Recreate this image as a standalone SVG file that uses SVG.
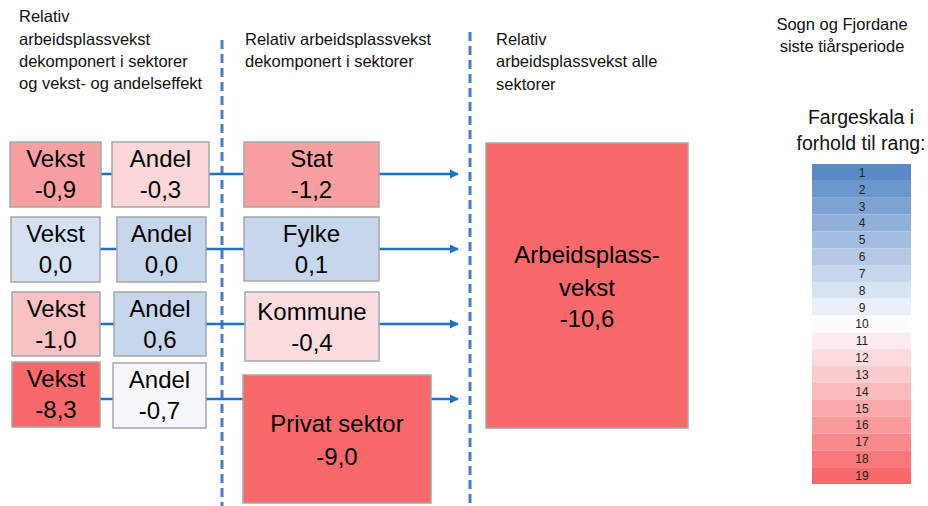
<svg xmlns="http://www.w3.org/2000/svg" width="928" height="506" viewBox="0 0 928 506">
<style>
.t{font-family:"Liberation Sans",Arial,sans-serif;font-size:16.5px;fill:#111}
.f{font-family:"Liberation Sans",Arial,sans-serif;font-size:19.5px;fill:#111;text-anchor:middle}
.b{stroke:#a6a6a6;stroke-width:1.5}
.bt{font-family:"Liberation Sans",Arial,sans-serif;font-size:24px;fill:#000;text-anchor:middle}
.c{stroke:#1f72c0;stroke-width:2.5;fill:none}
.d{stroke:#4a7ec4;stroke-width:3;stroke-dasharray:9 5;fill:none}
.s{font-family:"Liberation Sans",Arial,sans-serif;font-size:12px;fill:#222;text-anchor:middle}
</style>
<defs>
<marker id="ar" viewBox="0 0 10 10" refX="9" refY="5" markerWidth="9" markerHeight="10" orient="auto" markerUnits="userSpaceOnUse">
<path d="M0,0 L10,5 L0,10 z" fill="#1f72c0"/>
</marker>
</defs>
<rect width="928" height="506" fill="#fff"/>
<g id="titles">
<text class="t" x="19" y="22">Relativ</text>
<text class="t" x="19" y="45">arbeidsplassvekst</text>
<text class="t" x="19" y="67">dekomponert i sektorer</text>
<text class="t" x="19" y="89">og vekst- og andelseffekt</text>
<text class="t" x="245" y="45">Relativ arbeidsplassvekst</text>
<text class="t" x="245" y="67">dekomponert i sektorer</text>
<text class="t" x="496" y="45">Relativ</text>
<text class="t" x="496" y="67">arbeidsplassvekst alle</text>
<text class="t" x="496" y="90">sektorer</text>
<text class="t" x="842" y="30" text-anchor="middle">Sogn og Fjordane</text>
<text class="t" x="842" y="52" text-anchor="middle">siste tiårsperiode</text>
<text class="f" x="861" y="124">Fargeskala i</text>
<text class="f" x="861" y="150">forhold til rang:</text>
</g>
<g id="dividers">
<line class="d" x1="222" y1="40" x2="222" y2="506"/>
<line class="d" x1="470" y1="32" x2="470" y2="506"/>
</g>
<g id="connectors">
<line class="c" x1="100" y1="174" x2="458" y2="174" marker-end="url(#ar)"/>
<line class="c" x1="100" y1="249" x2="458" y2="249" marker-end="url(#ar)"/>
<line class="c" x1="100" y1="324" x2="458" y2="324" marker-end="url(#ar)"/>
<line class="c" x1="100" y1="399" x2="458" y2="399" marker-end="url(#ar)"/>
</g>
<g id="vekst1"><rect class="b" x="10" y="142" width="91" height="65" fill="#f89fa1"/><text class="bt" x="55.5" y="167">Vekst</text><text class="bt" x="55.5" y="198">-0,9</text></g>
<g id="andel1"><rect class="b" x="112" y="142" width="97" height="65" fill="#fbd7da"/><text class="bt" x="160.5" y="167">Andel</text><text class="bt" x="160.5" y="198">-0,3</text></g>
<g id="stat"><rect class="b" x="244" y="142" width="135" height="65" fill="#f89fa1"/><text class="bt" x="311.5" y="167">Stat</text><text class="bt" x="311.5" y="198">-1,2</text></g>
<g id="vekst2"><rect class="b" x="11" y="217" width="89" height="65" fill="#d5e1f2"/><text class="bt" x="55.5" y="242">Vekst</text><text class="bt" x="55.5" y="273">0,0</text></g>
<g id="andel2"><rect class="b" x="117" y="217" width="89" height="65" fill="#c6d6ec"/><text class="bt" x="161.5" y="242">Andel</text><text class="bt" x="161.5" y="273">0,0</text></g>
<g id="fylke"><rect class="b" x="244" y="217" width="135" height="64" fill="#c6d6ec"/><text class="bt" x="311.5" y="242">Fylke</text><text class="bt" x="311.5" y="273">0,1</text></g>
<g id="vekst3"><rect class="b" x="12" y="292" width="88" height="64" fill="#f9c1c3"/><text class="bt" x="56" y="317">Vekst</text><text class="bt" x="56" y="348">-1,0</text></g>
<g id="andel3"><rect class="b" x="114" y="292" width="92" height="64" fill="#c6d6ec"/><text class="bt" x="160" y="317">Andel</text><text class="bt" x="160" y="348">0,6</text></g>
<g id="kommune"><rect class="b" x="245" y="292" width="134" height="69" fill="#fbdde0"/><text class="bt" x="312" y="320">Kommune</text><text class="bt" x="312" y="351">-0,4</text></g>
<g id="vekst4"><rect class="b" x="12" y="362" width="88" height="65" fill="#f8696b"/><text class="bt" x="56" y="387">Vekst</text><text class="bt" x="56" y="418">-8,3</text></g>
<g id="andel4"><rect class="b" x="113" y="363" width="93" height="65" fill="#f5f7fd"/><text class="bt" x="159.5" y="388">Andel</text><text class="bt" x="159.5" y="419">-0,7</text></g>
<g id="privat"><rect class="b" x="243" y="375" width="188" height="128" fill="#f8696b"/><text class="bt" x="337" y="432">Privat sektor</text><text class="bt" x="337" y="465">-9,0</text></g>
<g id="total"><rect class="b" x="486" y="143" width="202" height="285" fill="#f8696b"/><text class="bt" x="587" y="263">Arbeidsplass-</text><text class="bt" x="587" y="296">vekst</text><text class="bt" x="587" y="327">-10,6</text></g>
<g id="scale">
<rect x="812" y="164.00" width="99" height="16.9" fill="#5a8ac6"/><text class="s" x="862" y="176.8">1</text>
<rect x="812" y="180.84" width="99" height="16.9" fill="#6c97cc"/><text class="s" x="862" y="193.6">2</text>
<rect x="812" y="197.68" width="99" height="16.9" fill="#7ea3d3"/><text class="s" x="862" y="210.5">3</text>
<rect x="812" y="214.53" width="99" height="16.9" fill="#90b0d9"/><text class="s" x="862" y="227.3">4</text>
<rect x="812" y="231.37" width="99" height="16.9" fill="#a2bddf"/><text class="s" x="862" y="244.2">5</text>
<rect x="812" y="248.21" width="99" height="16.9" fill="#b4c9e6"/><text class="s" x="862" y="261.0">6</text>
<rect x="812" y="265.05" width="99" height="16.9" fill="#c6d6ec"/><text class="s" x="862" y="277.9">7</text>
<rect x="812" y="281.89" width="99" height="16.9" fill="#d8e3f2"/><text class="s" x="862" y="294.7">8</text>
<rect x="812" y="298.74" width="99" height="16.9" fill="#eaeff9"/><text class="s" x="862" y="311.5">9</text>
<rect x="812" y="315.58" width="99" height="16.9" fill="#fcfcff"/><text class="s" x="862" y="328.4">10</text>
<rect x="812" y="332.42" width="99" height="16.9" fill="#fcecef"/><text class="s" x="862" y="345.2">11</text>
<rect x="812" y="349.26" width="99" height="16.9" fill="#fbdbde"/><text class="s" x="862" y="362.1">12</text>
<rect x="812" y="366.11" width="99" height="16.9" fill="#fbcbce"/><text class="s" x="862" y="378.9">13</text>
<rect x="812" y="382.95" width="99" height="16.9" fill="#fabbbd"/><text class="s" x="862" y="395.7">14</text>
<rect x="812" y="399.79" width="99" height="16.9" fill="#faaaad"/><text class="s" x="862" y="412.6">15</text>
<rect x="812" y="416.63" width="99" height="16.9" fill="#f99a9c"/><text class="s" x="862" y="429.4">16</text>
<rect x="812" y="433.47" width="99" height="16.9" fill="#f98a8c"/><text class="s" x="862" y="446.3">17</text>
<rect x="812" y="450.32" width="99" height="16.9" fill="#f8797b"/><text class="s" x="862" y="463.1">18</text>
<rect x="812" y="467.16" width="99" height="16.84" fill="#f8696b"/><text class="s" x="862" y="480.0">19</text>
</g>
</svg>
